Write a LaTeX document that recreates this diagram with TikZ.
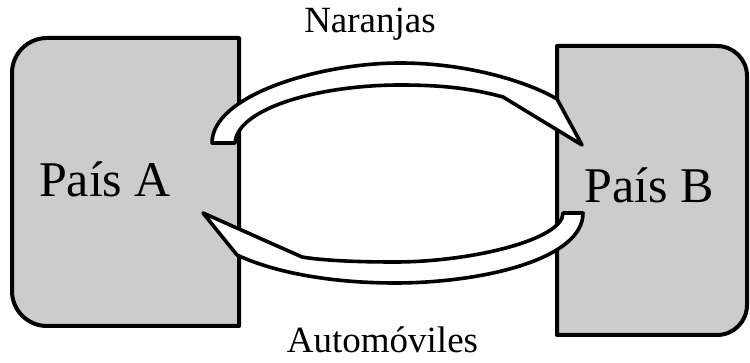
\documentclass[tikz,border=0pt]{standalone}
\usepackage{fontspec}
\setmainfont{Liberation Serif}
\newfontfamily\labelserif{Liberation Serif}
\begin{document}
\begin{tikzpicture}[x=1pt,y=-1pt,
  country/.style={draw=black,fill=countrygray,line width=4pt,line join=round},
  flow/.style={draw=black,fill=white,line width=3.6pt,line join=round},
  bigtext/.style={inner sep=0pt,anchor=base,font=\labelserif\fontsize{50}{60}\selectfont},
  goods/.style={inner sep=0pt,anchor=base,font=\labelserif\fontsize{37}{44}\selectfont}]
\definecolor{countrygray}{HTML}{CCCCCC}
\useasboundingbox (0,0) rectangle (750,363);

% country A: rounded on the left side
\path[country] (239,38) -- (47,38) .. controls (27.67,38) and (12,53.67) .. (12,73)
  -- (12,291) .. controls (12,310.33) and (27.67,326) .. (47,326) -- (239,326) -- cycle;
% country B: rounded on the right side
\path[country] (557,46) -- (717,46) .. controls (733.57,46) and (747,59.43) .. (747,76)
  -- (747,305) .. controls (747,321.57) and (733.57,335) .. (717,335) -- (557,335) -- cycle;

% upper flow: A -> B
\path[flow] (212,143) .. controls (212,95) and (320,63) .. (400,63)
  .. controls (470,63) and (530,83) .. (557,99) -- (582,145) -- (503,97)
  .. controls (470,88) and (440,85) .. (400,85)
  .. controls (320,85) and (237,108) .. (235,143) -- cycle;

% lower flow: B -> A
\path[flow] (203,213) -- (237,255) .. controls (280,275) and (340,283) .. (395,283)
  .. controls (480,283) and (583,260) .. (583,213) -- (563,213)
  .. controls (563,240) and (470,262) .. (395,262)
  .. controls (350,262) and (320,260) .. (302,257) -- cycle;

\node[bigtext] (paisA) at (105,197) {País A};
\node[bigtext] (paisB) at (649,203) {País B};
\node[goods] (naranjas) at (370,33) {Naranjas};
\node[goods] (autos) at (382.5,353) {Automóviles};
\end{tikzpicture}
\end{document}
